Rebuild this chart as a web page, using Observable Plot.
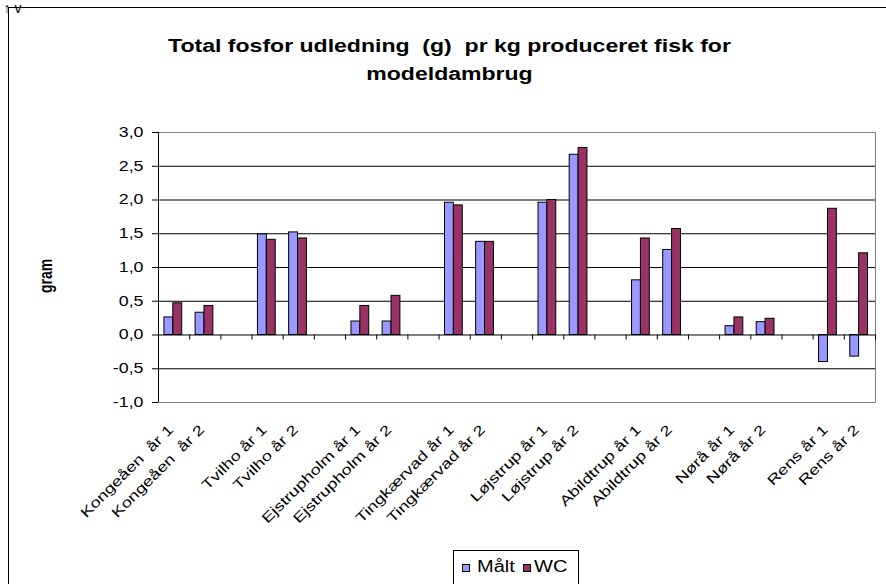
<!DOCTYPE html>
<html>
<head>
<meta charset="utf-8">
<script src="https://cdn.jsdelivr.net/npm/d3@7"></script>
<script src="https://cdn.jsdelivr.net/npm/@observablehq/plot@0.6"></script>
<style>
  body { margin: 0; background: #fff; }
  #wrap { position: relative; width: 886px; height: 584px; overflow: hidden; font-family: "Liberation Sans", Arial, sans-serif; color: #000; background: #fff; }
  #frame { position: absolute; left: 8px; top: 7px; width: 900px; height: 600px; border: 1px solid #000; box-sizing: border-box; z-index: 5; background: transparent; }
  .tline { position: absolute; left: 0; width: 899px; text-align: center; font-weight: bold; font-size: 18px; line-height: 20px; white-space: pre; transform: scaleX(1.28); transform-origin: 449.5px 50%; }
  #chart { position: absolute; left: 0; top: 0; }
  #ylab { position: absolute; left: 45px; top: 276px; font-weight: bold; font-size: 14px; transform: translate(-50%, -50%) rotate(-90deg) scaleY(1.3); white-space: nowrap; }
  #legend { position: absolute; left: 453px; top: 550px; width: 126px; height: 40px; border: 1px solid #000; box-sizing: border-box; background: #fff; }
  .sw { position: absolute; width: 8px; height: 8px; border: 1px solid #000; box-sizing: border-box; top: 13px; }
  .lt { position: absolute; top: 6px; font-size: 16px; line-height: 19px; white-space: nowrap; transform: scaleX(1.25); transform-origin: 0 50%; }
</style>
</head>
<body>
<div id="wrap">
  <div id="chart"></div>
  <div class="tline" id="t1" style="top:36px"></div>
  <div class="tline" id="t2" style="top:64px"></div>
  <div id="ylab"></div>
  <div id="legend"></div>
  <div id="frame"></div>
</div>
<script>
const titleLines = ["Total fosfor udledning  (g)  pr kg produceret fisk for", "modeldambrug"];
const yLabel = "gram";
const categories = [
  "Kongeåen\u00a0 år 1", "Kongeåen\u00a0 år 2", "",
  "Tvilho år 1", "Tvilho år 2", "",
  "Ejstrupholm år 1", "Ejstrupholm år 2", "",
  "Tingkærvad år 1", "Tingkærvad år 2", "",
  "Løjstrup år 1", "Løjstrup år 2", "",
  "Abildtrup år 1", "Abildtrup år 2", "",
  "Nørå år 1", "Nørå år 2", "",
  "Rens år 1", "Rens år 2"
];
const maalt = [0.26, 0.33, null, 1.49, 1.52, null, 0.20, 0.20, null, 1.96, 1.38, null, 1.96, 2.67, null, 0.81, 1.26, null, 0.13, 0.19, null, -0.40, -0.32];
const wc    = [0.47, 0.43, null, 1.41, 1.43, null, 0.43, 0.58, null, 1.92, 1.38, null, 2.00, 2.77, null, 1.43, 1.57, null, 0.26, 0.24, null, 1.87, 1.21];
const series = ["Målt", "WC"];
const yTicks = [-1, -0.5, 0, 0.5, 1, 1.5, 2, 2.5, 3];
const seriesColors = ["#9999FF", "#993366"];

document.getElementById("t1").textContent = titleLines[0];
document.getElementById("t2").textContent = titleLines[1];
document.getElementById("ylab").textContent = yLabel;

const idx = d3.range(categories.length).filter(i => categories[i] !== "");
const barsM = idx.map(i => ({i, v: maalt[i]}));
const barsW = idx.map(i => ({i, v: wc[i]}));
const labels = idx.map(i => ({i, text: categories[i]}));
const fmt = d => d.toFixed(1).replace(".", ",");

const plot = Plot.plot({
  width: 886,
  height: 584,
  marginLeft: 158,
  marginRight: 11,
  marginTop: 132,
  marginBottom: 182,
  style: {fontFamily: "'Liberation Sans', Arial, sans-serif", background: "transparent", color: "#000"},
  x: {domain: [0, categories.length], axis: null},
  y: {domain: [-1, 3], axis: null},
  marks: [
    Plot.ruleY(yTicks.filter(t => t !== 0 && t !== -1 && t !== 3), {stroke: "#000", strokeWidth: 1}),
    Plot.frame({stroke: "#808080"}),
    Plot.rectY(barsM, {x1: d => d.i + 0.19, x2: d => d.i + 0.475, y1: 0, y2: "v", fill: seriesColors[0], stroke: "#000", strokeWidth: 1}),
    Plot.rectY(barsW, {x1: d => d.i + 0.475, x2: d => d.i + 0.76, y1: 0, y2: "v", fill: seriesColors[1], stroke: "#000", strokeWidth: 1}),
    Plot.ruleY([0], {stroke: "#000"}),
    Plot.ruleX(d3.range(1, categories.length + 1), {y1: 0, y2: 0, insetBottom: -5, stroke: "#000"}),
    Plot.ruleX([0], {stroke: "#000"}),
    Plot.axisY({anchor: "left", ticks: yTicks, tickFormat: fmt, tickSize: 6, tickPadding: 9, fontSize: 14}),
    Plot.text(labels, {x: d => d.i + 0.5, text: "text", frameAnchor: "bottom", rotate: -45, textAnchor: "end", lineAnchor: "bottom", dy: 28, fontSize: 14, fill: "#000"})
  ]
});
document.getElementById("chart").appendChild(plot);

function stretch(t, s) {
  let tr = t.getAttribute("transform") || "";
  const x = t.getAttribute("x");
  if (x !== null && !/em/.test(x)) { tr += ` translate(${x},0)`; t.removeAttribute("x"); }
  t.setAttribute("transform", tr + ` scale(${s},1)`);
}
plot.querySelectorAll('g[aria-label="y-axis tick label"] text').forEach(t => stretch(t, 1.27));
plot.querySelectorAll('g[aria-label="text"] text').forEach(t => stretch(t, 1.3));

const lg = document.getElementById("legend");
const pos = [{sw: 8, tx: 23}, {sw: 69, tx: 80}];
series.forEach((s, k) => {
  const sw = document.createElement("div");
  sw.className = "sw"; sw.style.left = pos[k].sw + "px"; sw.style.background = seriesColors[k];
  lg.appendChild(sw);
  const tx = document.createElement("div");
  tx.className = "lt"; tx.style.left = pos[k].tx + "px"; tx.textContent = s;
  lg.appendChild(tx);
});
</script>
</body>
</html>
